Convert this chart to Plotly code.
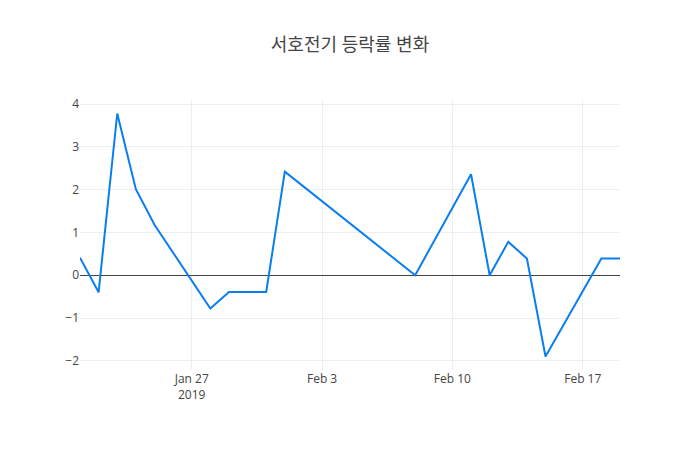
import plotly.graph_objects as go

dates = ["2019-01-21", "2019-01-22", "2019-01-23", "2019-01-24", "2019-01-25",
         "2019-01-28", "2019-01-29", "2019-01-30", "2019-01-31", "2019-02-01",
         "2019-02-08", "2019-02-11", "2019-02-12", "2019-02-13", "2019-02-14",
         "2019-02-15", "2019-02-18", "2019-02-19"]
changes = [0.41, -0.40, 3.78, 2.01, 1.18,
           -0.78, -0.39, -0.39, -0.39, 2.42,
           0.0, 2.36, 0.0, 0.78, 0.39,
           -1.90, 0.39, 0.39]

fig = go.Figure()
fig.add_trace(go.Scatter(x=dates, y=changes, mode="lines",
                         line=dict(color="#0a7ef0", width=2)))
fig.update_layout(
    title=dict(text="서호전기 등락률 변화", x=0.4886, xanchor="center",
               xref="container", yref="container", y=0.918, yanchor="middle",
               font=dict(size=18, color="#444")),
    width=700, height=450,
    paper_bgcolor="white", plot_bgcolor="white",
    font=dict(family="Open Sans, Noto Sans CJK KR, sans-serif", color="#444", size=12),
    margin=dict(l=72, r=88, t=92, b=88),
    showlegend=False,
)
fig.update_xaxes(showgrid=True, gridcolor="#eee", zeroline=False, showline=False)
fig.update_yaxes(showgrid=True, gridcolor="#eee", zeroline=True,
                 zerolinecolor="#444", zerolinewidth=1, showline=False)
fig.write_html("out.html")
